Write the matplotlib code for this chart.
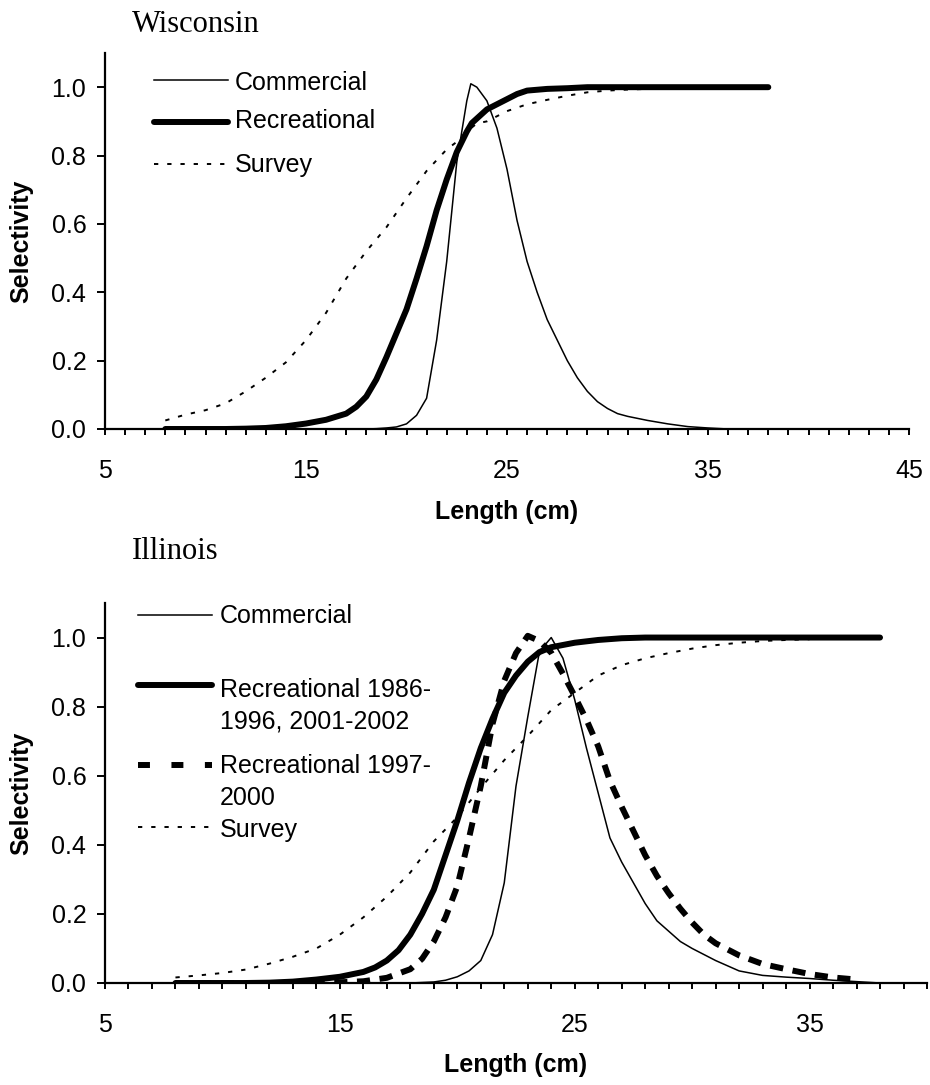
import matplotlib.pyplot as plt
from matplotlib.lines import Line2D
from matplotlib.ticker import MultipleLocator

plt.rcParams['font.family'] = ['Liberation Sans', 'DejaVu Sans']

# ---- Wisconsin ----
wi_com_len = [17, 18, 18.5, 19, 19.5, 20, 20.5, 21, 21.5, 22, 22.5, 23, 23.2, 23.5, 24, 24.5,
              25, 25.5, 26, 26.5, 27, 27.5, 28, 28.5, 29, 29.5, 30, 30.5, 31, 32, 33, 34, 35, 36]
wi_com = [0, 0, 0.001, 0.003, 0.006, 0.015, 0.04, 0.09, 0.26, 0.49, 0.78, 0.96, 1.01, 1.0, 0.96, 0.88,
          0.76, 0.61, 0.49, 0.40, 0.32, 0.26, 0.20, 0.15, 0.11, 0.08, 0.06, 0.045, 0.037, 0.025, 0.015, 0.007, 0.003, 0]

wi_rec_len = [8, 9, 10, 11, 12, 13, 14, 15, 16, 17, 17.5, 18, 18.5, 19, 19.5, 20, 20.5, 21, 21.5, 22,
              22.5, 23, 23.25, 24, 24.5, 25, 25.5, 26, 27, 28, 29, 30, 32, 34, 36, 38]
wi_rec = [0, 0, 0, 0, 0.001, 0.003, 0.008, 0.016, 0.027, 0.045, 0.065, 0.095, 0.145, 0.21, 0.28, 0.35,
          0.44, 0.535, 0.64, 0.73, 0.81, 0.87, 0.895, 0.935, 0.95, 0.965, 0.98, 0.99, 0.995, 0.997,
          1.0, 1.0, 1.0, 1.0, 1.0, 1.0]

wi_sur_len = [8, 9, 10, 11, 12, 13, 14, 15, 16, 17, 18, 19, 20, 21, 22, 22.5, 23, 23.5, 24, 24.5,
              25, 26, 27, 28, 29, 30, 31, 32, 33, 34, 35]
wi_sur = [0.025, 0.042, 0.055, 0.075, 0.11, 0.15, 0.195, 0.26, 0.34, 0.44, 0.52, 0.59, 0.675, 0.755,
          0.818, 0.84, 0.87, 0.894, 0.90, 0.915, 0.93, 0.95, 0.963, 0.975, 0.985, 0.99, 0.993, 0.995,
          0.995, 0.996, 0.996]

# ---- Illinois ----
il_com_len = [17, 18, 19, 19.5, 20, 20.5, 21, 21.5, 22, 22.5, 23, 23.5, 24, 24.5, 25, 25.5, 26, 26.5,
              27, 27.5, 28, 28.5, 29, 29.5, 30, 31, 32, 33, 34, 35, 36, 37, 38]
il_com = [0, 0, 0.003, 0.008, 0.018, 0.035, 0.065, 0.14, 0.29, 0.57, 0.77, 0.96, 1.0, 0.94, 0.82, 0.68,
          0.55, 0.42, 0.35, 0.29, 0.23, 0.18, 0.15, 0.12, 0.10, 0.065, 0.035, 0.022, 0.017, 0.013,
          0.008, 0.004, 0]

il_rec1_len = [8, 9, 10, 11, 12, 13, 14, 15, 16, 16.5, 17, 17.5, 18, 18.5, 19, 19.5, 20, 20.5, 21,
               21.5, 22, 22.5, 23, 23.5, 24, 25, 26, 27, 28, 30, 32, 34, 36, 38]
il_rec1 = [0, 0, 0, 0, 0.001, 0.004, 0.01, 0.018, 0.032, 0.045, 0.065, 0.095, 0.14, 0.20, 0.27, 0.37,
           0.47, 0.58, 0.68, 0.765, 0.84, 0.89, 0.93, 0.958, 0.972, 0.985, 0.993, 0.998, 1.0, 1.0,
           1.0, 1.0, 1.0, 1.0]

il_rec2_len = [8, 10, 12, 14, 15, 16, 17, 18, 18.5, 19, 19.5, 20, 20.5, 21, 21.5, 22, 22.5, 23, 23.5,
               24, 24.5, 25, 25.5, 26, 26.5, 27, 27.5, 28, 28.5, 29, 29.5, 30, 30.5, 31, 32, 33, 34,
               35, 36, 37]
il_rec2 = [0, 0, 0, 0, 0.002, 0.005, 0.015, 0.04, 0.07, 0.12, 0.19, 0.28, 0.42, 0.57, 0.75, 0.875,
           0.955, 1.005, 0.99, 0.956, 0.895, 0.83, 0.762, 0.685, 0.585, 0.51, 0.44, 0.37, 0.31, 0.26,
           0.215, 0.175, 0.14, 0.115, 0.08, 0.055, 0.04, 0.026, 0.016, 0.01]

il_sur_len = [8, 9, 10, 11, 12, 13, 14, 15, 16, 17, 18, 19, 20, 21, 22, 23, 24, 25, 26, 27, 28, 29,
              30, 31, 32, 33, 34, 35]
il_sur = [0.016, 0.022, 0.029, 0.039, 0.056, 0.076, 0.10, 0.14, 0.19, 0.25, 0.32, 0.41, 0.48, 0.565,
          0.645, 0.715, 0.79, 0.84, 0.89, 0.92, 0.94, 0.955, 0.968, 0.978, 0.985, 0.99, 0.993, 0.995]

y_ticks = [0.0, 0.2, 0.4, 0.6, 0.8, 1.0]

W, H = 930, 1085
fig = plt.figure(figsize=(W / 100, H / 100), dpi=100)


# pixel helpers (layout only)
def box(l, t, r, b):
    return [l / W, 1 - b / H, (r - l) / W, (b - t) / H]


def fx(x):
    return x / W


def fy(y):
    return 1 - y / H


thin = dict(color='black', lw=1.1)
thick = dict(color='black', lw=4.3, solid_capstyle='round')
dash = dict(color='black', lw=4.3, linestyle=(0, (2.2, 1.6)))
dash_key = dict(color='black', lw=4.3, linestyle=(0, (2.0, 3.6)))
dot = dict(color='black', lw=1.4, linestyle=(0, (2.2, 4.6)))


def style(ax, xmax, majors, xlab_y):
    ax.set_xlim(5, xmax)
    ax.set_ylim(0, 1.1)
    for s in ['top', 'right']:
        ax.spines[s].set_visible(False)
    for s in ['left', 'bottom']:
        ax.spines[s].set_linewidth(1.6)
    ax.set_xticks(majors)
    ax.xaxis.set_minor_locator(MultipleLocator(1))
    ax.set_yticks(y_ticks)
    ax.yaxis.set_major_formatter('{x:.1f}')
    ax.tick_params(axis='x', which='both', direction='out', length=4.5, width=1.4,
                   pad=17, labelsize=18)
    ax.tick_params(axis='y', direction='out', length=5.5, width=1.4, pad=8, labelsize=18)
    ax.set_xlabel('Length (cm)', fontsize=18, fontweight='bold', va='center')
    ax.xaxis.set_label_coords(0.5, xlab_y)
    ax.set_ylabel('Selectivity', fontsize=18, fontweight='bold', va='center')


def legend_row(y_line, x0, x1, kw, lines, baselines, xt):
    fig.add_artist(Line2D([fx(x0), fx(x1)], [fy(y_line), fy(y_line)],
                          transform=fig.transFigure, **kw))
    for t, b in zip(lines, baselines):
        fig.text(fx(xt), fy(b), t, fontsize=18, va='baseline', ha='left')


# Wisconsin panel
ax1 = fig.add_axes(box(105, 53, 909, 429))
ax1.plot(wi_sur_len, wi_sur, **dot)
ax1.plot(wi_com_len, wi_com, **thin)
ax1.plot(wi_rec_len, wi_rec, **thick)
style(ax1, 45, [5, 15, 25, 35, 45], -(512 - 429) / (429 - 53))
ax1.yaxis.set_label_coords(-(105 - 21) / (909 - 105), 0.5)
fig.text(fx(132), fy(32), 'Wisconsin', family=['Liberation Serif', 'DejaVu Serif'],
         fontsize=22, va='baseline')
legend_row(80, 154, 228, thin, ['Commercial'], [90], 235)
legend_row(122, 154, 228, thick, ['Recreational'], [128], 235)
legend_row(164, 154, 228, dot, ['Survey'], [172], 235)

# Illinois panel
ax2 = fig.add_axes(box(105, 603, 927, 983))
ax2.plot(il_sur_len, il_sur, **dot)
ax2.plot(il_com_len, il_com, **thin)
ax2.plot(il_rec2_len, il_rec2, **dash)
ax2.plot(il_rec1_len, il_rec1, **thick)
style(ax2, 40, [5, 15, 25, 35], -(1065 - 983) / (983 - 603))
ax2.yaxis.set_label_coords(-(105 - 21) / (927 - 105), 0.5)
fig.text(fx(132), fy(559), 'Illinois', family=['Liberation Serif', 'DejaVu Serif'],
         fontsize=22, va='baseline')
legend_row(615, 138, 212, thin, ['Commercial'], [623], 220)
legend_row(685, 138, 212, thick, ['Recreational 1986-', '1996, 2001-2002'], [697, 729], 220)
legend_row(765, 138, 212, dash_key, ['Recreational 1997-', '2000'], [773, 805], 220)
legend_row(827, 138, 212, dot, ['Survey'], [837], 220)

fig.savefig('out.png', dpi=100)
